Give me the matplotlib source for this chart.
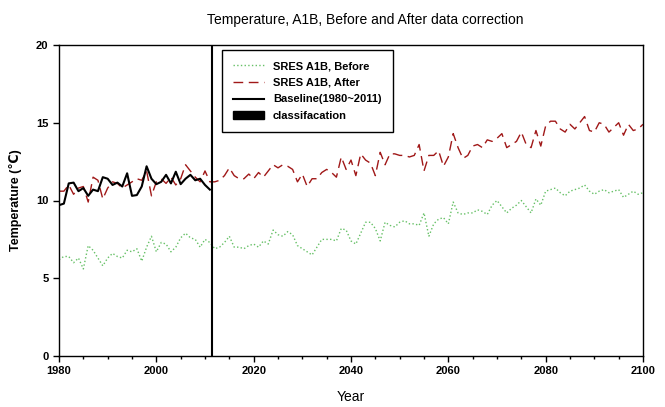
import numpy as np
import matplotlib
matplotlib.use('Agg')
import matplotlib.pyplot as plt
from matplotlib.patches import Patch
from matplotlib.ticker import MultipleLocator

plt.rcParams['font.family'] = ['Liberation Sans', 'DejaVu Sans']

# baseline 1980-2011
base_years = np.arange(1980, 2012)
baseline = [9.7, 9.8, 11.1, 11.15, 10.6, 10.8, 10.3, 10.7, 10.6, 11.5,
            11.4, 11.0, 11.15, 10.9, 11.75, 10.3, 10.35, 10.9, 12.2, 11.4,
            11.05, 11.2, 11.65, 11.1, 11.85, 11.05, 11.4, 11.65, 11.3, 11.4,
            11.0, 10.7]

# scenario 1980-2100
years = np.arange(1980, 2101)
after = [10.6, 10.6, 11.0, 10.4, 10.8, 10.9, 9.9, 11.5, 11.3, 10.1,
         10.8, 11.2, 11.1, 10.8, 11.0, 11.2, 11.4, 11.3, 11.9, 10.3,
         11.2, 11.4, 11.1, 11.5, 11.0, 11.4, 12.3, 11.9, 11.5, 11.2,
         11.9, 11.2,
         11.2, 11.3, 11.6, 12.1, 11.6, 11.4, 11.4, 11.7, 11.4, 11.8,
         11.5, 11.9, 12.3, 12.1, 12.3, 12.2, 12.0, 11.2, 11.7, 10.9,
         11.4, 11.4, 11.8, 12.0, 11.8, 11.5, 12.8, 12.0, 12.6, 11.6,
         13.0, 12.6, 12.4, 11.6, 13.1, 12.3, 13.0, 13.0, 12.9, 12.9,
         12.8, 12.9, 13.6, 11.9, 12.9, 12.9, 13.2, 12.2, 12.8, 14.3,
         13.4, 12.7, 12.9, 13.5, 13.6, 13.4, 13.9, 13.8, 14.0, 14.3,
         13.4, 13.6, 13.8, 14.4, 13.6, 13.4, 14.5, 13.5, 14.8, 15.1,
         15.1, 14.6, 14.4, 14.9, 14.6, 15.0, 15.4, 14.5, 14.4, 15.0,
         14.9, 14.4, 14.7, 15.0, 14.2, 14.9, 14.5, 14.6, 14.9]
before = [6.2, 6.4, 6.4, 6.0, 6.3, 5.6, 7.1, 6.8, 6.3, 5.8,
          6.3, 6.6, 6.4, 6.3, 6.8, 6.7, 6.9, 6.1, 7.0, 7.7,
          6.7, 7.3, 7.2, 6.7, 7.0, 7.6, 7.9, 7.6, 7.5, 7.0,
          7.5, 7.3,
          6.9, 7.0, 7.3, 7.7, 7.0, 7.0, 6.9, 7.1, 7.2, 7.0,
          7.4, 7.2, 8.1, 7.8, 7.7, 8.0, 7.8, 7.1, 6.9, 6.7,
          6.5, 7.0, 7.5, 7.5, 7.5, 7.4, 8.2, 8.1, 7.4, 7.2,
          7.9, 8.6, 8.6, 8.2, 7.4, 8.6, 8.4, 8.3, 8.6, 8.7,
          8.5, 8.5, 8.4, 9.2, 7.7, 8.5, 8.8, 8.9, 8.5, 9.9,
          9.2, 9.1, 9.2, 9.2, 9.4, 9.3, 9.1, 9.7, 10.0, 9.6,
          9.2, 9.5, 9.7, 10.0, 9.6, 9.2, 10.1, 9.7, 10.6, 10.7,
          10.8, 10.5, 10.3, 10.6, 10.7, 10.8, 11.0, 10.6, 10.4, 10.6,
          10.7, 10.5, 10.6, 10.7, 10.2, 10.4, 10.6, 10.4, 10.5]
split_year = 2011.5

fig = plt.figure(figsize=(6.65, 4.07), dpi=100)
ax = fig.add_axes([59/665, 1-356/407, 584/665, 311/407])

l1, = ax.plot(years, before, color='#66c066', linestyle=':', linewidth=1.0)
l2, = ax.plot(years, after, color='#a01818', linestyle=(0, (7, 4)), linewidth=1.0)
l3, = ax.plot(base_years, baseline, color='black', linewidth=1.5)
ax.axvline(split_year, color='black', linewidth=1.5)

ax.set_xlim(1980, 2100)
ax.set_ylim(0, 20)
ax.xaxis.set_major_locator(MultipleLocator(20))
ax.xaxis.set_minor_locator(MultipleLocator(5))
ax.yaxis.set_major_locator(MultipleLocator(5))
ax.tick_params(direction='out', length=4, width=1, labelsize=8)
ax.tick_params(which='minor', direction='out', length=2.5, width=1)
for lab in ax.get_xticklabels() + ax.get_yticklabels():
    lab.set_fontweight('bold')
for s in ax.spines.values():
    s.set_linewidth(1.0)

ax.set_xlabel('Year', fontsize=10, labelpad=10)
ax.set_ylabel('Temperature (\u2103)', fontsize=9, fontweight='bold', labelpad=10)
fig.text(365/665, 1-20/407, 'Temperature, A1B, Before and After data correction',
         ha='center', va='center', fontsize=10)

handles = [l1, l2, l3, Patch(facecolor='black', edgecolor='black')]
labels = ['SRES A1B, Before', 'SRES A1B, After', 'Baseline(1980~2011)', 'classifacation']
leg = ax.legend(handles, labels, loc='upper left', bbox_to_anchor=(0.279, 0.984),
                borderaxespad=0, frameon=True, fancybox=False, framealpha=1,
                edgecolor='black', prop={'weight': 'bold', 'size': 8},
                handlelength=2.8, borderpad=1.0, labelspacing=0.6)
leg.get_frame().set_linewidth(1.0)

fig.savefig('out.png', dpi=100)
